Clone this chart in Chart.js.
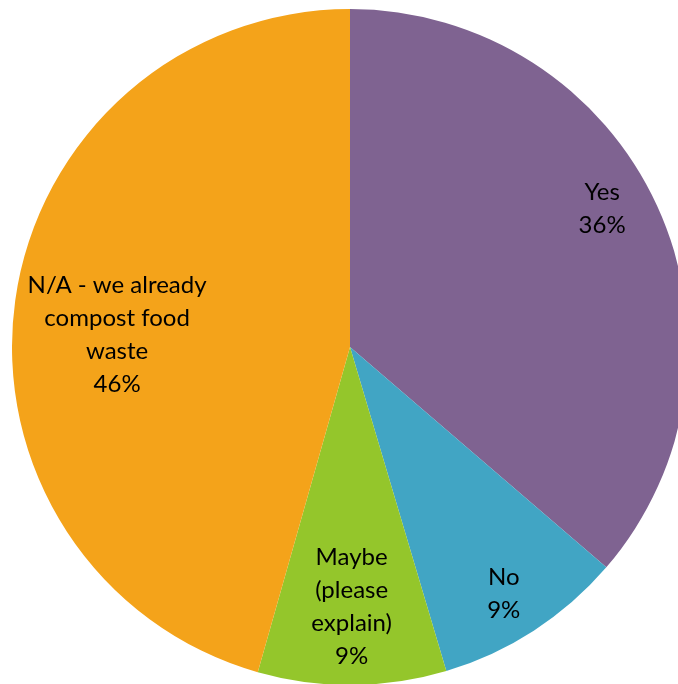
<!DOCTYPE html>
<html>
<head>
<meta charset="utf-8">
<script src="https://cdn.jsdelivr.net/npm/chart.js@4/dist/chart.umd.min.js"></script>
<style>
  html, body { margin: 0; padding: 0; background: #fff; overflow: hidden; width: 678px; height: 684px; }
  #chartCanvas { position: absolute; left: 12px; top: 9px; }
</style>
</head>
<body>
<canvas id="chartCanvas" width="676" height="676"></canvas>
<script>
// values (slice shares, in %)
const categories = ['Yes', 'No', 'Maybe (please explain)', 'N/A - we already compost food waste'];
const labelLines = [['Yes'], ['No'], ['Maybe', '(please', 'explain)'], ['N/A - we already', 'compost food', 'waste']];
const shares = [36.3, 9.1, 9.0, 45.6];
const shownPercents = ['36%', '9%', '9%', '46%'];
const sliceColors = ['#7F6391', '#41A5C4', '#94C62B', '#F4A31A'];

// where the text sits inside each slice (fraction of radius, angle nudge in degrees)
const labelRadius = [0.85, 0.86, 0.77, 0.69];
const labelNudge = [-4, 1, 0, -5];

const sliceLabels = {
  id: 'sliceLabels',
  afterDatasetsDraw(chart) {
    const ctx = chart.ctx;
    const meta = chart.getDatasetMeta(0);
    ctx.save();
    ctx.fillStyle = '#000';
    ctx.font = '24px Lato, "Open Sans", sans-serif';
    ctx.textAlign = 'center';
    ctx.textBaseline = 'middle';
    const lineH = 33;
    meta.data.forEach((arc, i) => {
      const p = arc.getProps(['x', 'y', 'startAngle', 'endAngle', 'outerRadius'], true);
      const mid = (p.startAngle + p.endAngle) / 2 + labelNudge[i] * Math.PI / 180;
      const r = p.outerRadius * labelRadius[i];
      const cx = p.x + Math.cos(mid) * r;
      const cy = p.y + Math.sin(mid) * r;
      const lines = labelLines[i].concat([shownPercents[i]]);
      const top = cy - (lines.length - 1) * lineH / 2;
      lines.forEach((t, k) => ctx.fillText(t, cx, top + k * lineH));
    });
    ctx.restore();
  }
};

new Chart(document.getElementById('chartCanvas'), {
  type: 'pie',
  data: {
    labels: categories,
    datasets: [{
      data: shares,
      backgroundColor: sliceColors,
      borderWidth: 0
    }]
  },
  options: {
    responsive: false,
    animation: false,
    layout: { padding: 0 },
    plugins: {
      legend: { display: false },
      tooltip: { enabled: false }
    }
  },
  plugins: [sliceLabels]
});
</script>
</body>
</html>
